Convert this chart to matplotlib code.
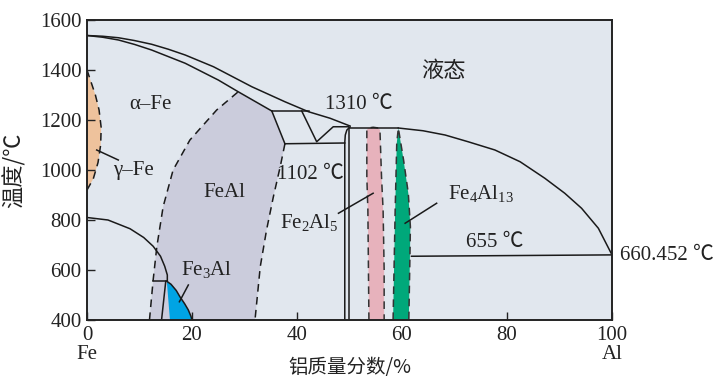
import matplotlib
matplotlib.use("Agg")
import matplotlib.pyplot as plt
import numpy as np

plt.rcParams['font.family'] = ['Liberation Serif', 'Noto Sans CJK SC']
plt.rcParams['mathtext.fontset'] = 'custom'
plt.rcParams['mathtext.rm'] = 'Liberation Serif'
plt.rcParams['mathtext.it'] = 'Liberation Serif:italic'

# ---- axis ticks ----
x_ticks = [0, 20, 40, 60, 80, 100]
y_ticks = [400, 600, 800, 1000, 1200, 1400, 1600]

# ---- phase boundaries (Al wt.%, temperature °C) ----
liq_left_x = [0, 3.0, 6.0, 9.0, 12.3, 15.5, 18.7, 24.1, 31.4, 37.7, 42.2, 46.3, 50.1]
liq_left_t = [1538, 1535, 1529, 1518, 1503, 1483, 1460, 1413, 1333, 1273, 1233, 1207, 1176]

liq_right_x = [59.3, 64.0, 68.2, 72.6, 77.7, 82.5, 87.2, 91.0, 94.2, 97.4, 100]
liq_right_t = [1168, 1157, 1140, 1113, 1080, 1033, 967, 907, 847, 767, 660.452]

sol_x = [0, 3.0, 6.0, 9.1, 12.3, 18.7, 25.0, 28.8, 35.2]
sol_t = [1538, 1531, 1520, 1502, 1480, 1427, 1360, 1313, 1236]

# gamma loop
gam_x = [0, 0.8, 1.6, 2.3, 2.7, 2.6, 2.1, 1.2, 0]
gam_t = [1400, 1350, 1300, 1240, 1170, 1100, 1030, 965, 920]

# FeAl field
feal_left_x = [11.9, 12.6, 13.3, 14.5, 16.4, 19.6, 24.7, 28.8]
feal_left_t = [400, 560, 693, 853, 1000, 1120, 1240, 1313]
feal_right_x = [37.7, 36.8, 35.5, 34.2, 33.0, 32.0]
feal_right_t = [1105, 1013, 893, 760, 613, 400]

# magnetic / ordering arc from the Fe side
arc_x = [0, 4.0, 8.2, 10.8, 12.6, 14.0, 14.8, 15.3, 15.3]
arc_t = [810, 800, 765, 730, 695, 655, 615, 580, 557]

# Fe3Al field
fe3al_right_x = [15.2, 16.0, 17.0, 17.7, 18.6, 19.3, 19.8, 20.0]
fe3al_right_t = [555, 543, 518, 493, 465, 440, 415, 400]
fe3al_left_x = [15.8, 15.2]
fe3al_left_t = [400, 555]

# Fe2Al5 field
fe2al5_left_x = [53.7, 53.5, 53.3, 53.3]
fe2al5_left_t = [400, 840, 973, 1160]
fe2al5_top_x = [53.3, 53.6, 54.5, 55.5, 55.8]
fe2al5_top_t = [1160, 1168, 1171, 1168, 1160]
fe2al5_right_x = [55.8, 56.1, 56.4, 56.6, 56.6]
fe2al5_right_t = [1160, 973, 840, 600, 400]

# Fe4Al13 field
fe4al13_left_x = [58.3, 58.7, 59.0, 59.3]
fe4al13_left_t = [400, 840, 1107, 1168]
fe4al13_right_x = [59.3, 60.3, 61.2, 61.6, 61.5, 61.3]
fe4al13_right_t = [1168, 1040, 907, 773, 640, 400]

# invariant lines
iso_1236_x = [35.2, 42.2]
iso_1102_x = [37.7, 49.1]
iso_1170_x = [50.1, 59.3]
tri_x = [40.9, 43.75, 46.9, 49.8]
tri_t = [1236, 1113, 1173, 1173]
eut_x = [61.8, 100]
eut_t = [655, 660.452]

# FeAl2 boundaries
v_left_x = [49.1, 49.1, 49.2, 49.5, 50.1]
v_left_t = [400, 1110, 1140, 1160, 1172]
v_right_x = [49.9, 49.9]
v_right_t = [400, 1170]

# small features inside Fe3Al corner
short_iso_x = [12.6, 15.2]
short_iso_t = [555, 555]
d03_x = [15.0, 14.2]
d03_t = [555, 400]

# colours
bg = '#E1E7EE'
c_feal = '#CBCCDC'
c_gam = '#EEC29C'
c_fe2al5 = '#E7B2BC'
c_fe4al13 = '#00A87A'
c_fe3al = '#00A4E4'
lc = '#1a1a1a'
tc = '#222222'

fig = plt.figure(figsize=(7.18, 3.79), dpi=100)
ax = fig.add_axes([87/718, 1-320/379, 525/718, 300/379])
ax.set_facecolor(bg)
ax.set_xlim(0, 100)
ax.set_ylim(400, 1600)

lw = 1.1
dash = (0, (5, 3.5))

# FeAl fill
sel = [i for i, x in enumerate(sol_x) if 28.8 <= x <= 35.2]
px = feal_left_x + [sol_x[i] for i in sel] + feal_right_x
pt = feal_left_t + [sol_t[i] for i in sel] + feal_right_t
ax.fill(px, pt, color=c_feal, lw=0, zorder=1)

# gamma loop
ax.fill(gam_x, gam_t, color=c_gam, lw=0, zorder=1)
ax.plot(gam_x, gam_t, color=lc, lw=lw, ls=dash, zorder=3)

# Fe3Al
ax.fill(fe3al_right_x + fe3al_left_x, fe3al_right_t + fe3al_left_t,
        color=c_fe3al, lw=0, zorder=2)
ax.plot(fe3al_right_x, fe3al_right_t, color=lc, lw=lw, zorder=3)

# Fe2Al5
f2x = fe2al5_left_x + fe2al5_top_x[1:-1] + fe2al5_right_x
f2t = fe2al5_left_t + fe2al5_top_t[1:-1] + fe2al5_right_t
ax.fill(f2x, f2t, color=c_fe2al5, lw=0, zorder=2)
ax.plot(f2x, f2t, color='#333333', lw=lw, ls=dash, zorder=3)

# Fe4Al13
f4x = fe4al13_left_x + fe4al13_right_x[1:]
f4t = fe4al13_left_t + fe4al13_right_t[1:]
ax.fill(f4x, f4t, color=c_fe4al13, lw=0, zorder=2)
ax.plot(f4x, f4t, color='#333333', lw=lw, ls=dash, zorder=3)

# FeAl dashed boundaries
ax.plot(feal_left_x, feal_left_t, color=lc, lw=lw, ls=dash, zorder=3)
ax.plot(feal_right_x, feal_right_t, color=lc, lw=lw, ls=dash, zorder=3)
ax.plot([35.2, 37.7], [1236, 1105], color=lc, lw=lw, zorder=3)

# liquidus / solidus
ax.plot(liq_left_x, liq_left_t, color=lc, lw=lw, zorder=3)
ax.plot(liq_right_x, liq_right_t, color=lc, lw=lw, zorder=3)
ax.plot(sol_x, sol_t, color=lc, lw=lw, zorder=3)

# invariant lines
ax.plot(iso_1236_x, [1236, 1236], color=lc, lw=lw, zorder=3)
ax.plot(iso_1102_x, [1105, 1108], color=lc, lw=lw, zorder=3)
ax.plot(iso_1170_x, [1170, 1170], color=lc, lw=lw, zorder=3)
ax.plot(tri_x, tri_t, color=lc, lw=lw, zorder=3)
ax.plot(eut_x, eut_t, color=lc, lw=lw, zorder=3)
ax.plot(v_left_x, v_left_t, color=lc, lw=lw, zorder=3)
ax.plot(v_right_x, v_right_t, color=lc, lw=lw, zorder=3)

# arc and Fe3Al-side lines
ax.plot(arc_x, arc_t, color=lc, lw=lw, zorder=3)
ax.plot(short_iso_x, short_iso_t, color=lc, lw=lw, zorder=3)
ax.plot(d03_x, d03_t, color=lc, lw=lw, zorder=3)

# leader lines
for (x0, t0, x1, t1) in [(1.85, 1080, 5.96, 1040),
                         (17.6, 473, 19.3, 540),
                         (47.9, 827, 54.5, 907),
                         (60.6, 787, 66.6, 867)]:
    ax.plot([x0, x1], [t0, t1], color=lc, lw=lw, zorder=4)

# labels
fs = 15
txt = dict(ha='center', va='center', color=tc, zorder=5)
ax.text(67.8, 1400, '液态', fontsize=16, family=['Noto Sans CJK SC'], **txt)
ax.text(12.0, 1262, 'α–Fe', fontsize=fs, **txt)
ax.text(8.9, 1000, 'γ–Fe', fontsize=fs, **txt)
ax.text(26.1, 912, 'FeAl', fontsize=fs, **txt)
ax.text(51.8, 1262, '1310 ℃', fontsize=fs, **txt)
ax.text(42.6, 982, '1102 ℃', fontsize=fs, **txt)
ax.text(42.3, 790, r'Fe$_\mathregular{2}$Al$_\mathregular{5}$', fontsize=fs, **txt)
ax.text(75.0, 905, r'Fe$_\mathregular{4}$Al$_\mathregular{13}$', fontsize=fs, **txt)
ax.text(22.8, 600, r'Fe$_\mathregular{3}$Al', fontsize=fs, **txt)
ax.text(77.7, 710, '655 ℃', fontsize=fs, **txt)
ax.text(101.5, 660, '660.452 ℃', fontsize=fs, ha='left', va='center',
        color=tc, clip_on=False)
ax.text(0, 262, 'Fe', fontsize=fs, ha='center', va='center', color=tc, clip_on=False)
ax.text(100, 262, 'Al', fontsize=fs, ha='center', va='center', color=tc, clip_on=False)
ax.text(50, 210, '铝质量分数/%', fontsize=14, family=['Noto Sans CJK SC'],
        ha='center', va='center', color=tc, clip_on=False)
ax.text(-13.9, 1000, '温度/℃', fontsize=16, family=['Noto Sans CJK SC'], rotation=90,
        ha='center', va='center', color=tc, clip_on=False)

ax.set_xticks(x_ticks)
ax.set_yticks(y_ticks)
ax.tick_params(direction='in', length=6, width=1.0, labelsize=15, pad=4,
               colors=tc)
for s in ax.spines.values():
    s.set_linewidth(1.4)
    s.set_color(tc)
    s.set_zorder(6)

fig.savefig('out.png', dpi=100)
